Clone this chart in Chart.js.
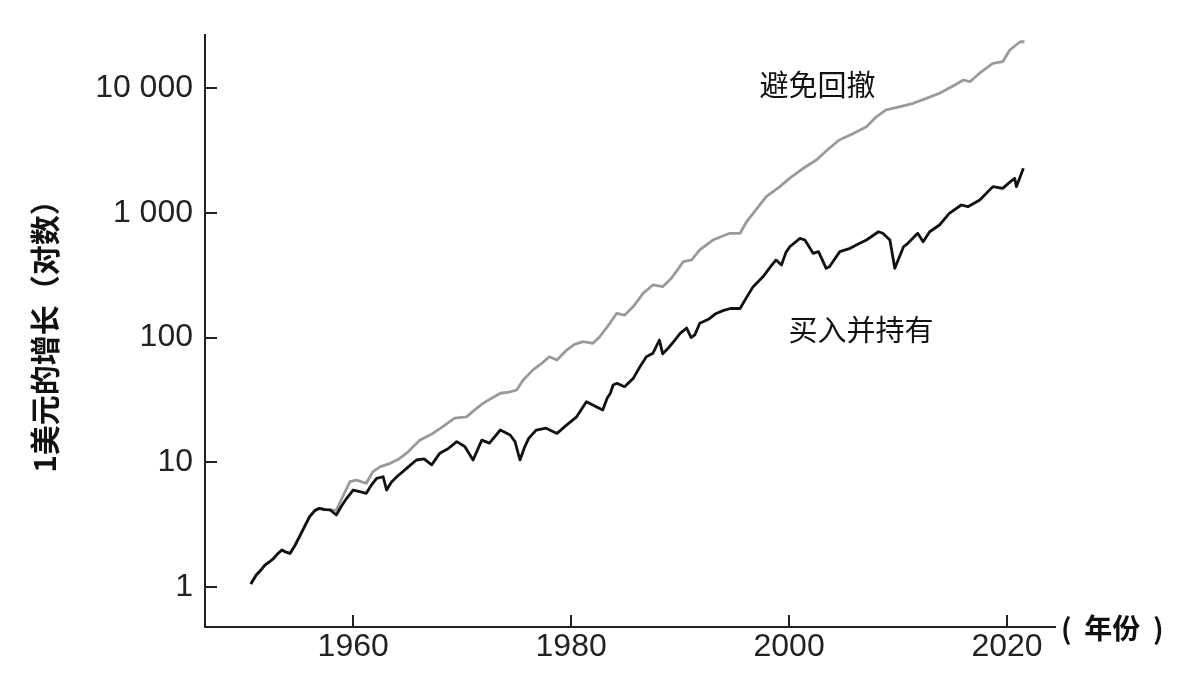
<!DOCTYPE html>
<html>
<head>
<meta charset="utf-8">
<script src="https://cdn.jsdelivr.net/npm/chart.js@4/dist/chart.umd.min.js"></script>
<style>
html,body{margin:0;padding:0;background:#fff;}
#wrap{width:1186px;height:678px;position:relative;}
</style>
</head>
<body>
<div id="wrap"><canvas id="c"></canvas></div>
<script>
// ---- Data ----
const buyHoldYears = [
  1950.6,1951.1,1951.5,1951.9,1952.3,1952.7,1953.1,1953.45,1953.8,1954.2,1954.6,1955.0,1955.5,1956.0,1956.5,1956.9,1957.4,1957.9,
  1958.45,1958.9,1959.4,1960.0,1960.6,1961.2,1961.7,1962.15,1962.75,1963.06,1963.5,1964.0,1964.9,1965.8,1966.5,1967.2,1967.95,
  1968.7,1969.5,1970.25,1971.0,1971.8,1972.5,1973.5,1974.4,1974.85,1975.3,1975.7,1976.1,1976.8,1977.7,1978.7,1979.6,
  1980.5,1981.4,1982.3,1982.9,1983.3,1983.6,1983.85,1984.2,1984.9,1985.7,1986.3,1986.9,1987.5,1988.1,1988.4,1988.9,1989.5,
  1990.0,1990.6,1991.0,1991.35,1991.8,1992.6,1993.3,1994.0,1994.6,1995.5,1996.1,1996.7,1997.6,1998.3,1998.8,1999.3,1999.7,
  2000.06,2001.0,2001.45,2002.2,2002.7,2003.4,2003.7,2004.65,2005.6,2006.3,2007.1,2008.2,2008.6,2009.25,2009.7,2010.5,2010.9,
  2011.8,2012.3,2012.9,2013.8,2014.7,2015.8,2016.4,2017.5,2018.7,2019.6,2020.2,2020.7,2020.86,2021.5
];
const buyHoldValues = [
  1.05,1.24,1.35,1.49,1.58,1.69,1.85,1.97,1.90,1.85,2.1,2.45,3.0,3.65,4.1,4.26,4.15,4.13,
  3.76,4.4,5.12,5.97,5.8,5.62,6.6,7.41,7.63,5.97,6.9,7.63,8.9,10.4,10.6,9.5,11.8,
  12.8,14.6,13.3,10.4,15.0,14.2,18.1,16.5,14.6,10.4,13.0,15.5,18.1,18.7,17.0,19.9,
  23.1,30.5,27.8,26.2,32.5,35.7,41.6,42.9,40.3,47,58,70,74.7,95.5,74,82,95,
  108,119,100,105,130,140,156,165,171,171,210,256,307,370,419,382,480,
  535,625,606,474,489,359,370,489,520,560,606,706,686,606,359,535,570,
  686,587,706,800,993,1157,1122,1270,1625,1575,1750,1896,1625,2280
];
const avoidYears = [
  1950.6,1951.1,1951.5,1951.9,1952.3,1952.7,1953.1,1953.45,1953.8,1954.2,1954.6,1955.0,1955.5,1956.0,1956.5,1956.9,1957.4,1957.9,
  1958.45,1959.0,1959.7,1960.3,1961.2,1961.8,1962.5,1963.4,1964.2,1964.9,1966.1,1967.3,1968.2,1969.3,
  1970.4,1971.1,1971.9,1972.7,1973.5,1974.3,1975.0,1975.6,1976.5,1977.3,1978.0,1978.7,1979.5,1980.3,1981.1,1982.0,
  1982.6,1983.55,1984.17,1984.9,1985.7,1986.6,1987.5,1988.4,1989.2,1990.3,1991.05,1991.8,1993.0,1994.56,1995.5,1996.1,
  1996.7,1997.9,1999.15,2000.06,2001.2,2002.5,2003.5,2004.6,2005.8,2007.1,2008.0,2008.9,2010.1,2011.4,2012.6,
  2013.8,2015.0,2016.0,2016.6,2017.6,2018.7,2019.6,2020.25,2021.2,2021.6
];
const avoidValues = [
  1.05,1.24,1.35,1.49,1.58,1.69,1.85,1.97,1.90,1.85,2.1,2.45,3.0,3.65,4.1,4.26,4.15,4.13,
  4.1,5.2,6.96,7.18,6.76,8.37,9.2,9.78,10.6,11.8,15.0,17.0,19.2,22.5,
  23.1,26,29.6,32.5,35.7,36.5,37.9,45.6,55,62,70,66,78,88,92.6,89.8,
  101,130,156,151,177,226,264,256,299,406,419,504,606,686,686,850,
  993,1350,1625,1900,2250,2660,3200,3850,4300,4920,5900,6700,7100,7580,8300,
  9120,10400,11660,11300,13500,15850,16350,20300,23650,23650
];
const xTicks = [1960, 1980, 2000, 2020];
const yTicks = [1, 10, 100, 1000, 10000];
const seriesNames = ['避免回撤', '买入并持有'];
const xTitle = '(  年份  )';
const yTitle = '1美元的增长（对数）';

// ---- Annotation placement (data coordinates) ----
const seriesLabelAt = [
  {text: seriesNames[0], x: 2002.6, y: 10600},
  {text: seriesNames[1], x: 2006.6, y: 115}
];

const toPts = (xs, ys) => xs.map((x, i) => ({x: x, y: ys[i]}));
const fmt = v => String(v).replace(/\B(?=(\d{3})+(?!\d))/g, ' ');

const decor = {
  id: 'decor',
  afterDraw(chart) {
    const ctx = chart.ctx;
    const xs = chart.scales.x, ys = chart.scales.y;
    const a = chart.chartArea;
    ctx.save();
    // inward tick marks
    ctx.strokeStyle = '#222';
    ctx.lineWidth = 2;
    ctx.beginPath();
    xTicks.forEach(v => {
      const px = Math.round(xs.getPixelForValue(v));
      ctx.moveTo(px, a.bottom);
      ctx.lineTo(px, a.bottom - 12);
    });
    yTicks.forEach(v => {
      const py = Math.round(ys.getPixelForValue(v));
      ctx.moveTo(a.left, py);
      ctx.lineTo(a.left + 12, py);
    });
    ctx.stroke();
    // series labels
    ctx.fillStyle = '#111';
    ctx.font = '29px "Noto Sans CJK SC"';
    ctx.textAlign = 'center';
    ctx.textBaseline = 'middle';
    seriesLabelAt.forEach(l => {
      ctx.fillText(l.text, xs.getPixelForValue(l.x), ys.getPixelForValue(l.y));
    });
    // x title
    ctx.font = 'bold 28px "Noto Sans CJK SC"';
    ctx.textAlign = 'left';
    ctx.fillText(xTitle, a.right + 6, a.bottom + 1);
    // y title
    ctx.translate(45, (a.top + a.bottom) / 2 - 2);
    ctx.rotate(-Math.PI / 2);
    ctx.font = 'bold 30px "Noto Sans CJK SC"';
    ctx.textAlign = 'center';
    ctx.fillText(yTitle, 0, 0);
    ctx.restore();
  }
};

new Chart(document.getElementById('c'), {
  type: 'line',
  data: {
    datasets: [
      {
        label: seriesNames[1],
        data: toPts(buyHoldYears, buyHoldValues),
        borderColor: '#111',
        borderWidth: 2.8,
        pointRadius: 0,
        tension: 0,
        borderJoinStyle: 'round',
        order: 0
      },
      {
        label: seriesNames[0],
        data: toPts(avoidYears, avoidValues),
        borderColor: '#9a9a9a',
        borderWidth: 2.8,
        pointRadius: 0,
        tension: 0,
        borderJoinStyle: 'round',
        order: 1
      }
    ]
  },
  options: {
    responsive: true,
    maintainAspectRatio: false,
    animation: false,
    layout: {padding: {left: 0, right: 131, top: 35, bottom: 0}},
    plugins: {legend: {display: false}, tooltip: {enabled: false}},
    scales: {
      x: {
        type: 'linear',
        min: 1946.4,
        max: 2024.4,
        afterBuildTicks: s => { s.ticks = xTicks.map(v => ({value: v})); },
        afterFit: s => { s.height = 51; },
        grid: {display: false, drawTicks: false},
        border: {display: true, color: '#222', width: 2},
        ticks: {
          font: {family: 'Liberation Sans', size: 32},
          color: '#222',
          padding: 1,
          maxRotation: 0,
          autoSkip: false,
          callback: v => String(v)
        }
      },
      y: {
        type: 'logarithmic',
        min: 0.475,
        max: 26780,
        afterBuildTicks: s => { s.ticks = yTicks.map(v => ({value: v})); },
        afterFit: s => { s.width = 205; },
        grid: {display: false, drawTicks: false},
        border: {display: true, color: '#222', width: 2},
        ticks: {
          font: {family: 'Liberation Sans', size: 32},
          color: '#222',
          padding: 12,
          autoSkip: false,
          callback: v => fmt(v)
        }
      }
    }
  },
  plugins: [decor]
});
</script>
</body>
</html>
